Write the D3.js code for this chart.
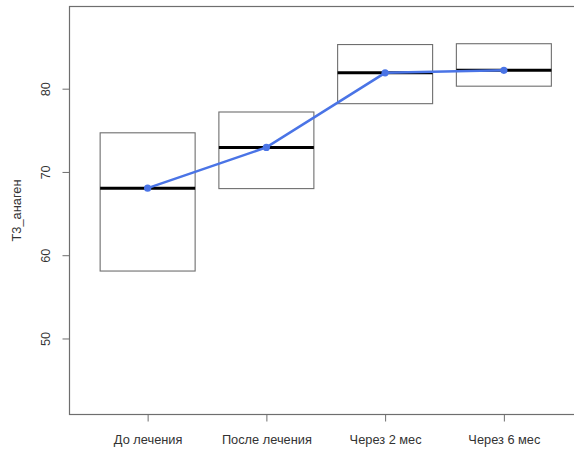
<!DOCTYPE html>
<html>
<head>
<meta charset="utf-8">
<script src="https://cdn.jsdelivr.net/npm/d3@7"></script>
<style>
  html, body { margin: 0; padding: 0; background: #fff; }
  svg { display: block; }
</style>
</head>
<body>
<svg id="chart" width="574" height="450"></svg>
<script>
// Groups along the x axis
const categories = ["До лечения", "После лечения", "Через 2 мес", "Через 6 мес"];
// Box bounds (lower, upper) and the middle line per group
const boxLow  = [58.1, 68.0, 78.2, 80.3];
const boxHigh = [74.7, 77.2, 85.3, 85.4];
const medians = [68.05, 72.95, 81.9, 82.2];
// Y axis ticks
const yTicks = [50, 60, 70, 80];
const yLabel = "Т3_анаген";

const svg = d3.select("#chart");
const mLeft = 69.5, mTop = 6.5, mBottom = 414.5, mRight = 582;

const x = d3.scaleLinear().domain([0.342, 4.658]).range([mLeft, mRight]);
const y = d3.scaleLinear().domain([40.87, 89.87]).range([mBottom, mTop]);
const boxW = 0.8;
const frameCol = "#6e6e6e";
const fontFam = "'Liberation Sans', Arial, sans-serif";
const fontSize = 12.8;

// frame (right edge falls just outside the view)
svg.append("rect")
  .attr("x", mLeft).attr("y", mTop)
  .attr("width", mRight - mLeft).attr("height", mBottom - mTop)
  .attr("fill", "none").attr("stroke", frameCol).attr("stroke-width", 1.2);

// boxes with median bars
const g = svg.append("g");
categories.forEach((c, i) => {
  g.append("rect")
    .attr("x", x(i + 1 - boxW / 2))
    .attr("y", y(boxHigh[i]))
    .attr("width", x(i + 1 + boxW / 2) - x(i + 1 - boxW / 2))
    .attr("height", y(boxLow[i]) - y(boxHigh[i]))
    .attr("fill", "none").attr("stroke", frameCol).attr("stroke-width", 1.1);
  g.append("line")
    .attr("x1", x(i + 1 - boxW / 2)).attr("x2", x(i + 1 + boxW / 2))
    .attr("y1", y(medians[i])).attr("y2", y(medians[i]))
    .attr("stroke", "#000").attr("stroke-width", 3);
});

// connecting line through the middle values
const line = d3.line().x((d, i) => x(i + 1)).y(d => y(d));
svg.append("path")
  .datum(medians)
  .attr("d", line)
  .attr("fill", "none").attr("stroke", "#4a74e6").attr("stroke-width", 2.5);
svg.selectAll("circle.pt").data(medians).join("circle")
  .attr("class", "pt")
  .attr("cx", (d, i) => x(i + 1)).attr("cy", d => y(d))
  .attr("r", 3.6).attr("fill", "#4a74e6");

// y axis: ticks from d3, labels rotated
const yAxis = svg.append("g").attr("transform", `translate(${mLeft},0)`)
  .call(d3.axisLeft(y).tickValues(yTicks).tickSize(7));
yAxis.select(".domain").remove();
yAxis.selectAll(".tick line").attr("stroke", frameCol);
yAxis.selectAll(".tick text")
  .attr("x", null).attr("dy", null)
  .attr("transform", "translate(-20,0) rotate(-90)")
  .attr("text-anchor", "middle")
  .attr("font-family", fontFam).attr("font-size", fontSize).attr("fill", "#333");

// x axis
const xAxis = svg.append("g").attr("transform", `translate(0,${mBottom})`)
  .call(d3.axisBottom(x).tickValues([1, 2, 3, 4]).tickFormat(d => categories[d - 1]).tickSize(7).tickPadding(13));
xAxis.select(".domain").remove();
xAxis.selectAll(".tick line").attr("stroke", frameCol);
xAxis.selectAll(".tick text")
  .attr("font-family", fontFam).attr("font-size", fontSize).attr("fill", "#333");

// y axis title
svg.append("text")
  .attr("transform", `translate(21,${(mTop + mBottom) / 2}) rotate(-90)`)
  .attr("text-anchor", "middle")
  .attr("font-family", fontFam).attr("font-size", fontSize).attr("fill", "#333")
  .text(yLabel);
</script>
</body>
</html>
